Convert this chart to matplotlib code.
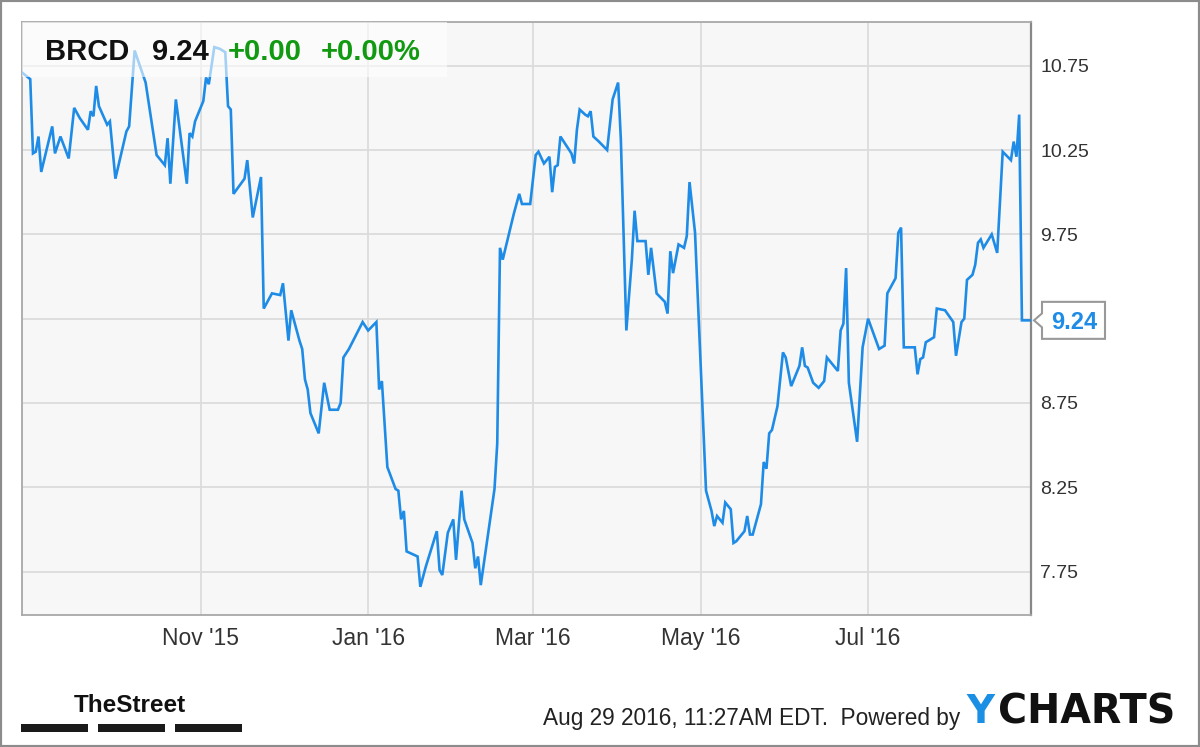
import matplotlib
matplotlib.use("Agg")
import matplotlib.pyplot as plt
import matplotlib.dates as mdates
import numpy as np
from matplotlib.patches import Rectangle, Polygon

# ---------------- data ----------------
ticker = "BRCD"
last_price = 9.24
change_abs = "+0.00"
change_pct = "+0.00%"
start_date = "2015-08-28"

day_offsets = [0, 3, 4, 5, 6, 7, 11, 12, 14, 17, 19, 21, 24, 25, 26, 27, 28, 31, 32, 34,
               38, 39, 41, 45, 49, 52, 53, 54, 56, 60, 61, 62, 63, 66, 67, 68, 70, 72, 74, 75,
               76, 77, 81, 82, 84, 87, 88, 91, 94, 95, 97, 98, 101, 102, 103, 104, 105, 108, 110, 112,
               115, 116, 117, 119, 124, 126, 129, 130, 131, 133, 136, 137, 138, 139, 140, 144, 145, 147, 151, 152,
               153, 155, 157, 158, 160, 161, 164, 165, 166, 167, 172, 173, 174, 175, 179, 181, 182, 185, 187, 188,
               190, 192, 193, 194, 195, 196, 200, 201, 202, 203, 205, 206, 207, 208, 210, 213, 215, 217, 218, 220,
               222, 223, 224, 227, 228, 229, 231, 234, 235, 236, 237, 239, 241, 242, 243, 245, 249, 251, 252, 253,
               255, 256, 258, 259, 260, 263, 264, 265, 266, 269, 270, 271, 272, 273, 275, 277, 278, 280, 283, 284,
               285, 286, 288, 290, 292, 293, 295, 297, 298, 299, 300, 301, 304, 306, 308, 312, 314, 315, 318, 319,
               320, 321, 325, 326, 327, 328, 329, 332, 333, 336, 339, 340, 342, 343, 344, 346, 347, 348, 349, 350,
               353, 355, 357, 360, 361, 362, 363, 364, 367]

prices = [10.71, 10.67, 10.23, 10.24, 10.33, 10.12, 10.39, 10.23, 10.33, 10.20, 10.50, 10.44, 10.37, 10.48, 10.45, 10.63, 10.51, 10.40, 10.42, 10.08,
          10.36, 10.39, 10.84, 10.65, 10.22, 10.16, 10.32, 10.05, 10.55, 10.05, 10.35, 10.33, 10.42, 10.54, 10.68, 10.64, 10.86, 10.85, 10.83, 10.51,
          10.49, 9.99, 10.08, 10.19, 9.85, 10.09, 9.31, 9.40, 9.39, 9.46, 9.12, 9.30, 9.12, 9.07, 8.89, 8.83, 8.69, 8.57, 8.87, 8.71,
          8.71, 8.75, 9.02, 9.07, 9.23, 9.18, 9.23, 8.83, 8.88, 8.37, 8.24, 8.23, 8.06, 8.11, 7.87, 7.84, 7.66, 7.78, 7.99, 7.76,
          7.73, 7.98, 8.06, 7.82, 8.23, 8.06, 7.92, 7.77, 7.84, 7.67, 8.24, 8.51, 9.67, 9.60, 9.87, 9.99, 9.93, 9.93, 10.22, 10.24,
          10.17, 10.21, 10.00, 10.15, 10.16, 10.33, 10.23, 10.17, 10.37, 10.49, 10.46, 10.45, 10.48, 10.33, 10.30, 10.25, 10.55, 10.65, 10.31, 9.18,
          9.60, 9.89, 9.71, 9.71, 9.51, 9.67, 9.40, 9.35, 9.28, 9.65, 9.52, 9.69, 9.67, 9.74, 10.06, 9.76, 8.23, 8.11, 8.02, 8.08,
          8.04, 8.16, 8.12, 7.92, 7.93, 7.99, 8.08, 7.97, 7.97, 8.15, 8.40, 8.36, 8.57, 8.59, 8.73, 9.05, 9.02, 8.85, 8.97, 9.08,
          8.97, 8.96, 8.87, 8.84, 8.88, 9.02, 8.98, 8.94, 9.18, 9.22, 9.55, 8.87, 8.52, 9.08, 9.25, 9.07, 9.09, 9.40, 9.49, 9.76,
          9.79, 9.08, 9.08, 8.92, 9.01, 9.02, 9.11, 9.14, 9.31, 9.30, 9.23, 9.03, 9.23, 9.25, 9.48, 9.51, 9.57, 9.70, 9.72, 9.67,
          9.75, 9.64, 10.24, 10.19, 10.30, 10.21, 10.46, 9.24, 9.24]

y_ticks = [7.75, 8.25, 8.75, 9.25, 9.75, 10.25, 10.75]
y_tick_labels = ["7.75", "8.25", "8.75", "", "9.75", "10.25", "10.75"]
x_tick_dates = ["2015-11-01", "2016-01-01", "2016-03-01", "2016-05-01", "2016-07-01"]
x_tick_labels = ["Nov '15", "Jan '16", "Mar '16", "May '16", "Jul '16"]
footer_text = "Aug 29 2016, 11:27AM EDT.  Powered by"

# ---------------- styling ----------------
W, H = 1200, 747
BLUE = "#1e8ce6"
GREEN = "#119a11"
FONT = ["Liberation Sans", "DejaVu Sans"]
plt.rcParams["font.family"] = FONT


def fx(px):
    return px / W


def fy(py):
    return 1 - py / H


fig = plt.figure(figsize=(W / 100, H / 100), dpi=100)
fig.patch.set_facecolor("white")

ax_l, ax_r, ax_t, ax_b = 22, 1031, 22, 615
ax = fig.add_axes([fx(ax_l), fy(ax_b), (ax_r - ax_l) / W, (ax_b - ax_t) / H])
ax.set_facecolor("#f7f7f7")

start = np.datetime64(start_date)
dates = start + np.array(day_offsets).astype("timedelta64[D]")
xnum = mdates.date2num(dates)
ax.plot(xnum, prices, color=BLUE, lw=1.9, zorder=3, solid_joinstyle="miter")

x0 = mdates.date2num(start)
ax.set_xlim(x0, x0 + 367.3)
ax.set_ylim(7.493, 11.009)

ax.set_xticks(mdates.date2num(np.array(x_tick_dates, dtype="datetime64[D]")))
ax.set_xticklabels(x_tick_labels)
ax.set_yticks(y_ticks)
ax.set_yticklabels(y_tick_labels)
ax.yaxis.tick_right()
ax.tick_params(axis="y", length=0, pad=6.5, labelsize=14, labelcolor="#333333")
ax.tick_params(axis="x", length=0, pad=8.5, labelsize=16.5, labelcolor="#333333")
ax.grid(True, color="#dcdcdc", lw=1.3, zorder=1)
ax.set_axisbelow(True)
for name, sp in ax.spines.items():
    sp.set_color("#a8a8a8")
    sp.set_linewidth(1.3)
ax.spines["right"].set_color("#888888")
ax.spines["right"].set_linewidth(1.6)

# translucent title box
pw, ph = ax_r - ax_l, ax_b - ax_t
ax.add_patch(Rectangle((0, 1 - (77 - ax_t) / ph), (447 - ax_l) / pw, (77 - ax_t) / ph,
                       transform=ax.transAxes, facecolor="white", alpha=0.6,
                       edgecolor="none", zorder=4))
base = 1 - (59.5 - ax_t) / ph
ax.text((45 - ax_l) / pw, base, ticker, transform=ax.transAxes, fontsize=21,
        fontweight="bold", color="#111111", va="baseline", zorder=5)
ax.text((152 - ax_l) / pw, base, f"{last_price:.2f}", transform=ax.transAxes, fontsize=21,
        fontweight="bold", color="#111111", va="baseline", zorder=5)
ax.text((228 - ax_l) / pw, base, change_abs, transform=ax.transAxes, fontsize=21,
        fontweight="bold", color=GREEN, va="baseline", zorder=5)
ax.text((321 - ax_l) / pw, base, change_pct, transform=ax.transAxes, fontsize=21,
        fontweight="bold", color=GREEN, va="baseline", zorder=5)

# last price flag, tied to the last data point
fig.canvas.draw()
_, ly = ax.transData.transform((xnum[-1], prices[-1]))
cy = H - ly  # pixel row from top
bl, br, bh = 1042, 1105, 18.5
flag = [(bl, cy - bh), (br, cy - bh), (br, cy + bh), (bl, cy + bh),
        (bl, cy + 7), (1034, cy), (bl, cy - 7)]
fig.patches.append(Polygon([(fx(a), fy(b)) for a, b in flag], closed=True,
                           transform=fig.transFigure, facecolor="white",
                           edgecolor="#999999", lw=1.5, zorder=5))
fig.text(fx((bl + br) / 2 + 1), fy(cy), f"{last_price:.2f}", color=BLUE, fontsize=17,
         fontweight="bold", ha="center", va="center_baseline", zorder=6)

# footer: TheStreet logo
fig.text(fx(74), fy(712), "TheStreet", fontsize=17.5, fontweight="bold",
         family=["Liberation Sans"], color="#111111", va="baseline")
for a, b in [(21, 88), (98, 165), (175, 242)]:
    fig.patches.append(Rectangle((fx(a), fy(732)), (b - a) / W, 8 / H,
                                 transform=fig.transFigure, facecolor="#1a1a1a",
                                 edgecolor="none"))

fig.text(fx(960), fy(725), footer_text, fontsize=16.3, color="#222222",
         ha="right", va="baseline")
fig.text(fx(966), fy(723), "Y", fontsize=28, fontweight="bold", color="#1a8fe3",
         family=["DejaVu Sans"], va="baseline")
fig.text(fx(998), fy(723), "CHARTS", fontsize=28.5, fontweight="bold", color="#111111",
         family=["DejaVu Sans"], va="baseline")

# outer frame
fig.patches.append(Rectangle((0, 0), 1, 1, transform=fig.transFigure, fill=False,
                             edgecolor="#8c8c8c", lw=3))

fig.savefig("out.png", dpi=100, facecolor="white")
